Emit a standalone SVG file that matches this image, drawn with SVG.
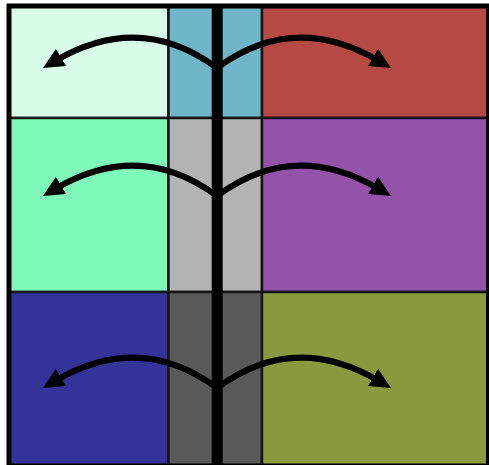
<svg xmlns="http://www.w3.org/2000/svg" width="489" height="465" viewBox="0 0 489 465">
  <style>
    .cell { stroke: #151515; stroke-width: 2.5; }
    .arrow { fill: none; stroke: #000; stroke-width: 6; marker-end: url(#head); }
  </style>
  <defs>
    <marker id="head" markerUnits="userSpaceOnUse" markerWidth="22" markerHeight="20" viewBox="0 0 22 20" refX="7" refY="10" orient="auto">
      <path d="M0,0 L21,10 L0,20 z" fill="#000"/>
    </marker>
  </defs>
  <rect x="0" y="0" width="489" height="465" fill="#fff"/>
  <g id="cell-top-left"><rect class="cell" x="9" y="6" width="159.5" height="112" fill="#d8fde8"/></g>
  <g id="cell-top-mid"><rect class="cell" x="168.5" y="6" width="93.5" height="112" fill="#6fb6c8"/></g>
  <g id="cell-top-right"><rect class="cell" x="262" y="6" width="226" height="112" fill="#b54944"/></g>
  <g id="cell-mid-left"><rect class="cell" x="9" y="118" width="159.5" height="174" fill="#7ef9b9"/></g>
  <g id="cell-mid-mid"><rect class="cell" x="168.5" y="118" width="93.5" height="174" fill="#b4b4b4"/></g>
  <g id="cell-mid-right"><rect class="cell" x="262" y="118" width="226" height="174" fill="#9552aa"/></g>
  <g id="cell-bot-left"><rect class="cell" x="9" y="292" width="159.5" height="175" fill="#333399"/></g>
  <g id="cell-bot-mid"><rect class="cell" x="168.5" y="292" width="93.5" height="175" fill="#595959"/></g>
  <g id="cell-bot-right"><rect class="cell" x="262" y="292" width="226" height="175" fill="#889a3d"/></g>
  <g id="frame">
    <rect x="9" y="6" width="479.5" height="460" fill="none" stroke="#000" stroke-width="5"/>
  </g>
  <g id="spine"><rect x="211.7" y="4" width="11" height="461" fill="#000"/></g>
  <g id="connectors">
    <path class="arrow" d="M217,68 Q140,11 55,61"/>
    <path class="arrow" d="M217,68 Q294,11 379,61"/>
    <g transform="translate(0,128)">
      <path class="arrow" d="M217,68 Q140,11 55,61"/>
      <path class="arrow" d="M217,68 Q294,11 379,61"/>
    </g>
    <g transform="translate(0,320)">
      <path class="arrow" d="M217,68 Q140,11 55,61"/>
      <path class="arrow" d="M217,68 Q294,11 379,61"/>
    </g>
  </g>
</svg>
